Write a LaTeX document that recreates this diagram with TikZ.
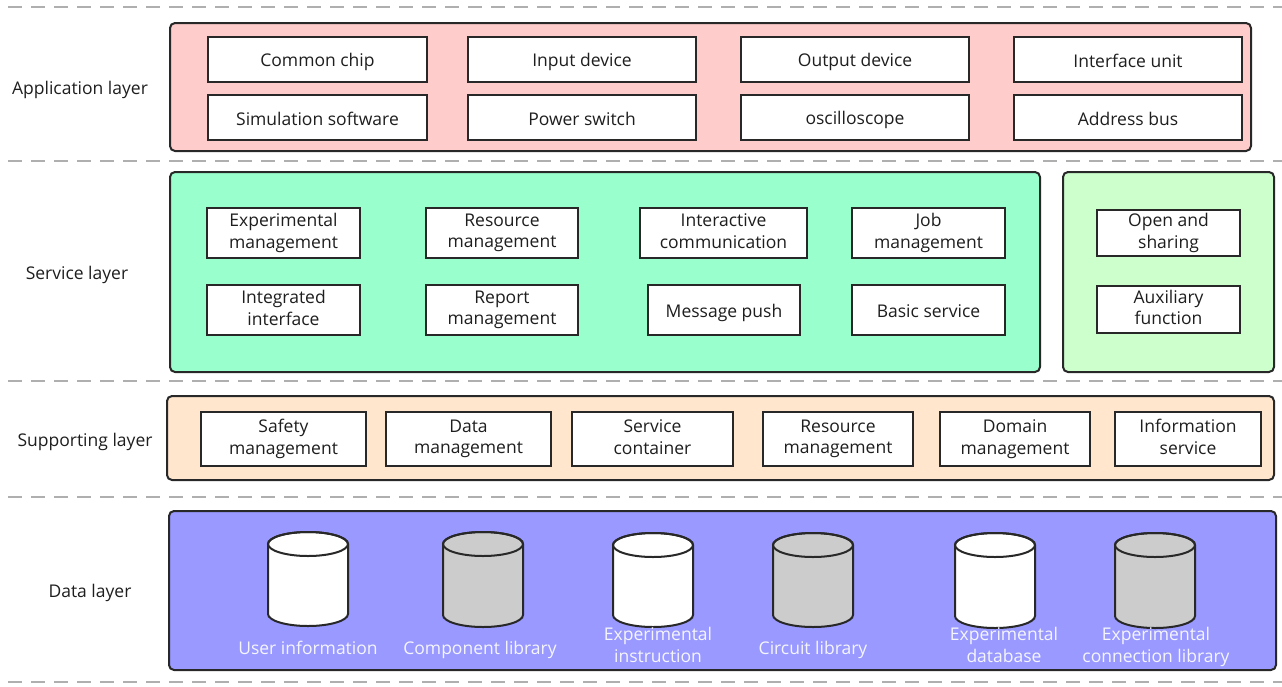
\documentclass[tikz,border=0pt]{standalone}
\usepackage{fontspec}
\setmainfont{Open Sans}
\definecolor{appfill}{RGB}{255,204,204}
\definecolor{svcfill}{RGB}{153,255,204}
\definecolor{auxfill}{RGB}{204,255,204}
\definecolor{supfill}{RGB}{255,230,204}
\definecolor{datfill}{RGB}{153,153,255}
\definecolor{edge}{RGB}{40,40,40}
\definecolor{ink}{RGB}{30,30,30}
\definecolor{sepgray}{RGB}{175,175,175}
\definecolor{dbgray}{RGB}{204,204,204}
\definecolor{dblabel}{RGB}{245,245,255}
% fixed line top and bottom so every label sits at the same height
\newcommand\uprule{\rule{0pt}{19pt}}
\newcommand\downrule{\rule[-4pt]{0pt}{4pt}}
\tikzset{
  txt/.style={font=\fontsize{17.5}{21.5}\selectfont, text=ink},
  layerbox/.style={draw=edge, line width=2pt, rounded corners=5pt, inner sep=0pt},
  item/.style={draw=edge, fill=white, line width=2.4pt, align=center, inner sep=0pt, txt,
    execute at begin node=\uprule, execute at end node=\downrule},
  lbl/.style={txt, inner sep=0pt},
  sepline/.style={draw=sepgray, line width=1.6pt, dash pattern=on 14pt off 9pt},
  dbbody/.style={draw=edge, line width=2pt},
  dbname/.style={font=\fontsize{17.5}{21.5}\selectfont, text=dblabel, align=center, inner sep=0pt,
    execute at begin node=\uprule, execute at end node=\downrule},
}
% rectangle node given by its corners: name, x1, y1, x2, y2, style, text
\newcommand\boxnode[7]{%
  \node[#6, minimum width={#4-#2}, minimum height={#5-#3}] (#1) at ({(#2+#4)/2},{(#3+#5)/2}) {#7};}
% database cylinder: name, centre x, top y, bottom y, fill
\newcommand\dbcyl[5]{%
  \coordinate (#1) at (#2,{(#3+#4)/2});
  \path[dbbody, fill=#5] (#2-40,#3+12) -- (#2-40,#4-12)
    arc[start angle=180, end angle=0, x radius=40, y radius=12]
    -- (#2+40,#3+12)
    arc[start angle=0, end angle=-180, x radius=40, y radius=12] -- cycle;
  \draw[dbbody] (#2,#3+12) ellipse[x radius=40, y radius=12];}
\begin{document}
\begin{tikzpicture}[x=1pt,y=-1pt]
\useasboundingbox (0,0) rectangle (1282,686);

% layer separators
\foreach \yy in {7,161,381,497,682}
  \draw[sepline] (8,\yy) -- (1282,\yy);

% layer names
\node[lbl] (lapp) at (80,90) {Application layer};
\node[lbl] (lsvc) at (77,275) {Service layer};
\node[lbl] (lsup) at (85,442) {Supporting layer};
\node[lbl] (ldat) at (90,593) {Data layer};

% application layer
\boxnode{app}{170}{23}{1251}{151}{layerbox, fill=appfill}{}
\boxnode{a1}{208}{37}{427}{82}{item}{Common chip}
\boxnode{a2}{468}{37}{696}{82}{item}{Input device}
\boxnode{a3}{741}{37}{969}{82}{item}{Output device}
\boxnode{a4}{1014}{37}{1242}{82}{item}{Interface unit}
\boxnode{a5}{208}{95}{427}{140}{item}{Simulation software}
\boxnode{a6}{468}{95}{696}{140}{item}{Power switch}
\boxnode{a7}{741}{95}{969}{140}{item}{oscilloscope}
\boxnode{a8}{1014}{95}{1242}{140}{item}{Address bus}

% service layer
\boxnode{svc}{170}{172}{1040}{372}{layerbox, fill=svcfill}{}
\boxnode{s1}{207}{208}{360}{258}{item}{Experimental\\management}
\boxnode{s2}{426}{208}{578}{258}{item}{Resource\\management}
\boxnode{s3}{640}{208}{807}{258}{item}{Interactive\\communication}
\boxnode{s4}{852}{208}{1005}{258}{item}{Job\\management}
\boxnode{s5}{207}{285}{360}{335}{item}{Integrated\\interface}
\boxnode{s6}{426}{285}{578}{335}{item}{Report\\management}
\boxnode{s7}{648}{285}{800}{335}{item}{Message push}
\boxnode{s8}{852}{285}{1005}{335}{item}{Basic service}
\boxnode{aux}{1063}{172}{1274}{372}{layerbox, fill=auxfill}{}
\boxnode{x1}{1097}{210}{1240}{256}{item}{Open and\\sharing}
\boxnode{x2}{1097}{286}{1240}{333}{item}{Auxiliary\\function}

% supporting layer
\boxnode{sup}{167}{396}{1274}{480}{layerbox, fill=supfill}{}
\boxnode{p1}{201}{412}{366}{466}{item}{Safety\\management}
\boxnode{p2}{386}{412}{551}{466}{item}{Data\\management}
\boxnode{p3}{572}{412}{733}{466}{item}{Service\\container}
\boxnode{p4}{763}{412}{913}{466}{item}{Resource\\management}
\boxnode{p5}{940}{412}{1090}{466}{item}{Domain\\management}
\boxnode{p6}{1115}{412}{1261}{466}{item}{Information\\service}

% data layer
\boxnode{dat}{169}{511}{1276}{670}{layerbox, fill=datfill}{}
\dbcyl{d1}{308}{532}{626}{white}
\dbcyl{d2}{483}{532}{627}{dbgray}
\dbcyl{d3}{653}{533}{627}{white}
\dbcyl{d4}{813}{533}{627}{dbgray}
\dbcyl{d5}{995}{533}{628}{white}
\dbcyl{d6}{1155}{533}{628}{dbgray}
\node[dbname] (n1) at (308,647) {User information};
\node[dbname] (n2) at (480,647) {Component library};
\node[dbname] (n3) at (658,647) {Experimental\\instruction};
\node[dbname] (n4) at (813,647) {Circuit library};
\node[dbname] (n5) at (1004,647) {Experimental\\database};
\node[dbname] (n6) at (1156,647) {Experimental\\connection library};
\end{tikzpicture}
\end{document}
